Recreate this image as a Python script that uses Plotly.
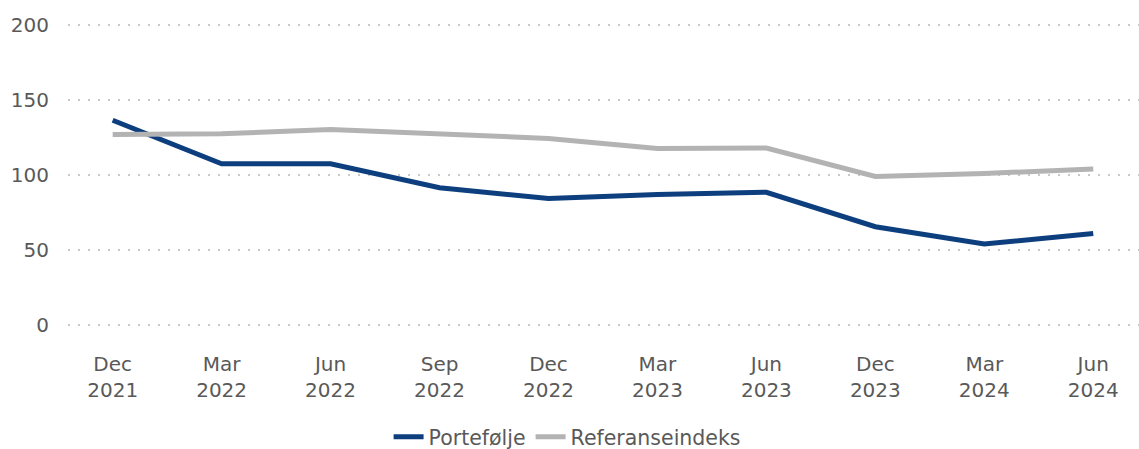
import plotly.graph_objects as go

categories = ["Dec<br>2021", "Mar<br>2022", "Jun<br>2022", "Sep<br>2022", "Dec<br>2022",
              "Mar<br>2023", "Jun<br>2023", "Dec<br>2023", "Mar<br>2024", "Jun<br>2024"]
portefolje = [136.5, 107.5, 107.5, 91.5, 84.3, 87.0, 88.5, 65.5, 54.0, 61.0]
referanseindeks = [127.0, 127.5, 130.4, 127.7, 124.4, 117.7, 118.0, 99.0, 101.0, 104.0]
y_ticks = [0, 50, 100, 150, 200]

font_family = "DejaVu Sans"
text_color = "#595959"

fig = go.Figure()
fig.add_trace(go.Scatter(x=categories, y=portefolje, mode="lines", name="Portefølje",
                         line=dict(color="#0d3f7e", width=5)))
fig.add_trace(go.Scatter(x=categories, y=referanseindeks, mode="lines", name="Referanseindeks",
                         line=dict(color="#b3b3b3", width=5)))

fig.update_layout(
    width=1139, height=449,
    margin=dict(l=68, r=0, t=22, b=121, autoexpand=False),
    paper_bgcolor="white", plot_bgcolor="white",
    font=dict(family=font_family, size=20, color=text_color),
    showlegend=True,
    legend=dict(orientation="h", x=0.466, xanchor="center",
                yref="container", y=0.027, yanchor="middle",
                font=dict(family=font_family, size=20.5, color=text_color),
                itemwidth=30, tracegroupgap=0, bgcolor="rgba(0,0,0,0)"),
    xaxis=dict(type="category", range=[-0.41, 9.42], showgrid=False, zeroline=False,
               showline=False, ticks="", ticklabelstandoff=22,
               tickfont=dict(family=font_family, size=20, color=text_color)),
    yaxis=dict(range=[-2, 202], tickvals=y_ticks, showgrid=True, gridcolor="#c8c8c8",
               griddash="2px,8px", gridwidth=2, zeroline=False, showline=False, ticks="",
               ticklabelstandoff=18,
               tickfont=dict(family=font_family, size=20, color=text_color)),
)
fig.write_html("out.html", config={"displayModeBar": False},
               post_script="document.body.style.margin='0';document.body.style.overflow='hidden';")
